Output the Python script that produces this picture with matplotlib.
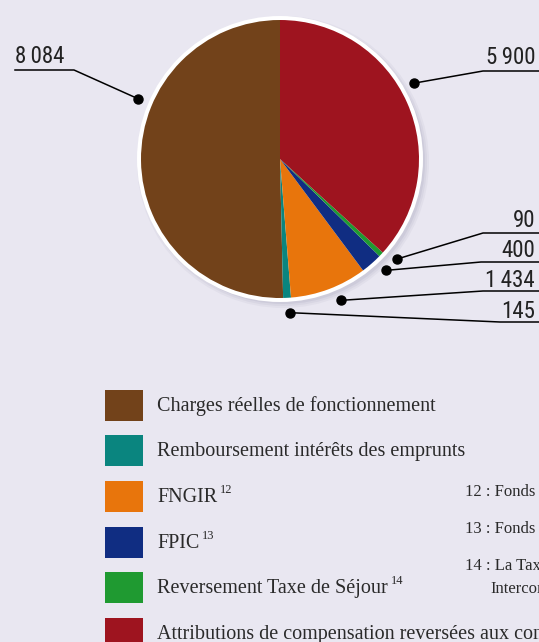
import matplotlib
matplotlib.use("Agg")
import matplotlib.pyplot as plt
from matplotlib.patches import Circle, Rectangle
from matplotlib import font_manager
from matplotlib.font_manager import FontProperties
import os
import numpy as np

# ---------------- data ----------------
categories = [
    "Charges réelles de fonctionnement",
    "Remboursement intérêts des emprunts",
    "FNGIR",
    "FPIC",
    "Reversement Taxe de Séjour",
    "Attributions de compensation reversées aux communes",
]
values = [8084, 145, 1434, 400, 90, 5900]
superscripts = ["", "", "12", "13", "14", ""]
colors = ["#72421A", "#0A857F", "#E8750C", "#102D82", "#1F9A31", "#9E141F"]
legend_order = [0, 1, 2, 3, 4, 5]
footnotes = [
    "12 : Fonds National de Garantie Individuelle des Ressources",
    "13 : Fonds de Péréquation des ressources Intercommunales",
    "14 : La Taxe de Séjour est reversée à l'Office de Tourisme",
    "Intercommunal",
]

BG = "#E9E7F1"


def find_font(candidates, fallback_family):
    files = {os.path.basename(f.fname).lower(): f.fname for f in font_manager.fontManager.ttflist}
    for c in candidates:
        for base, path in files.items():
            if base.startswith(c.lower()):
                return FontProperties(fname=path)
    return FontProperties(family=fallback_family)


num_fp = find_font(["LiberationSansNarrow-Regular", "RobotoCondensed-Regular",
                    "DejaVuSansCondensed.ttf", "DejaVuSansCondensed"], ["Liberation Sans", "DejaVu Sans"])
txt_font = ["Liberation Serif", "DejaVu Serif"]

W, H = 539, 642
fig = plt.figure(figsize=(W / 100, H / 100), dpi=100, facecolor=BG)

# ---------------- pie ----------------
cx, cy = 280, 159
half = 170
pax = fig.add_axes([(cx - half) / W, (H - cy - half) / H, 2 * half / W, 2 * half / H])
pax.set_facecolor("none")
R = 139
for k, a in enumerate([0.05, 0.06, 0.08]):
    pax.add_patch(Circle((3, -3), 146 - 2 * k, color="#50507a", alpha=a, zorder=0, lw=0))
pax.add_patch(Circle((0, 0), 143, color="white", zorder=1, lw=0))
wedges, _ = pax.pie(values, colors=colors, startangle=90, counterclock=True,
                    radius=R, wedgeprops=dict(linewidth=0))
for w in wedges:
    w.set_zorder(2)
pax.set_xlim(-half, half)
pax.set_ylim(-half, half)
pax.set_aspect("equal")
pax.axis("off")

# ---------------- overlay (image pixel coords) ----------------
ov = fig.add_axes([0, 0, 1, 1], zorder=5)
ov.set_xlim(0, W)
ov.set_ylim(H, 0)
ov.axis("off")
ov.set_facecolor("none")

dot_angles = [157, -86.3, -66.6, -46.3, -40.5, 29.5]
dot_r = 154
under_y = [70, 322, 291, 262, 233, 71]
elbow_x = [74, 500, 483, 481, 483, 483]
side = ["left", "right", "right", "right", "right", "right"]
text_gap = [7, 4, 4, 5, 6, 7]

nfp = num_fp.copy()
nfp.set_size(16.5)
for i, v in enumerate(values):
    a = np.deg2rad(dot_angles[i])
    dx, dy = cx + dot_r * np.cos(a), cy - dot_r * np.sin(a)
    lab = f"{v:,}".replace(",", "\u2009")
    if side[i] == "left":
        ov.plot([15, elbow_x[i], dx], [under_y[i], under_y[i], dy], color="black", lw=1.1)
        ov.text(15, under_y[i] - text_gap[i], lab, ha="left", va="baseline",
                fontproperties=nfp, color="#222222")
    else:
        ov.plot([W + 2, elbow_x[i], dx], [under_y[i], under_y[i], dy], color="black", lw=1.1)
        ov.text(535, under_y[i] - text_gap[i], lab, ha="right", va="baseline",
                fontproperties=nfp, color="#222222")
    ov.plot([dx], [dy], "o", color="black", ms=6.5)

# ---------------- legend ----------------
row_top = [390, 435, 481, 527, 572, 618]
fig.canvas.draw()
rend = fig.canvas.get_renderer()
for r, idx in enumerate(legend_order):
    ov.add_patch(Rectangle((105, row_top[r]), 38, 31, facecolor=colors[idx], edgecolor="none"))
    t = ov.text(157, row_top[r] + 21, categories[idx], ha="left", va="baseline",
                fontsize=14.5, family=txt_font, color="#2a2a2a")
    if superscripts[idx]:
        bb = t.get_window_extent(renderer=rend)
        ov.text(bb.x1 + 3, row_top[r] + 12, superscripts[idx], ha="left", va="baseline",
                fontsize=9, family=txt_font, color="#2a2a2a")

foot_pos = [(465, 496), (465, 533), (465, 570), (490, 593)]
for (x, y), s in zip(foot_pos, footnotes):
    ov.text(x, y, s, ha="left", va="baseline", fontsize=12, family=txt_font, color="#2a2a2a")

fig.savefig("out.png", dpi=100, facecolor=BG)
